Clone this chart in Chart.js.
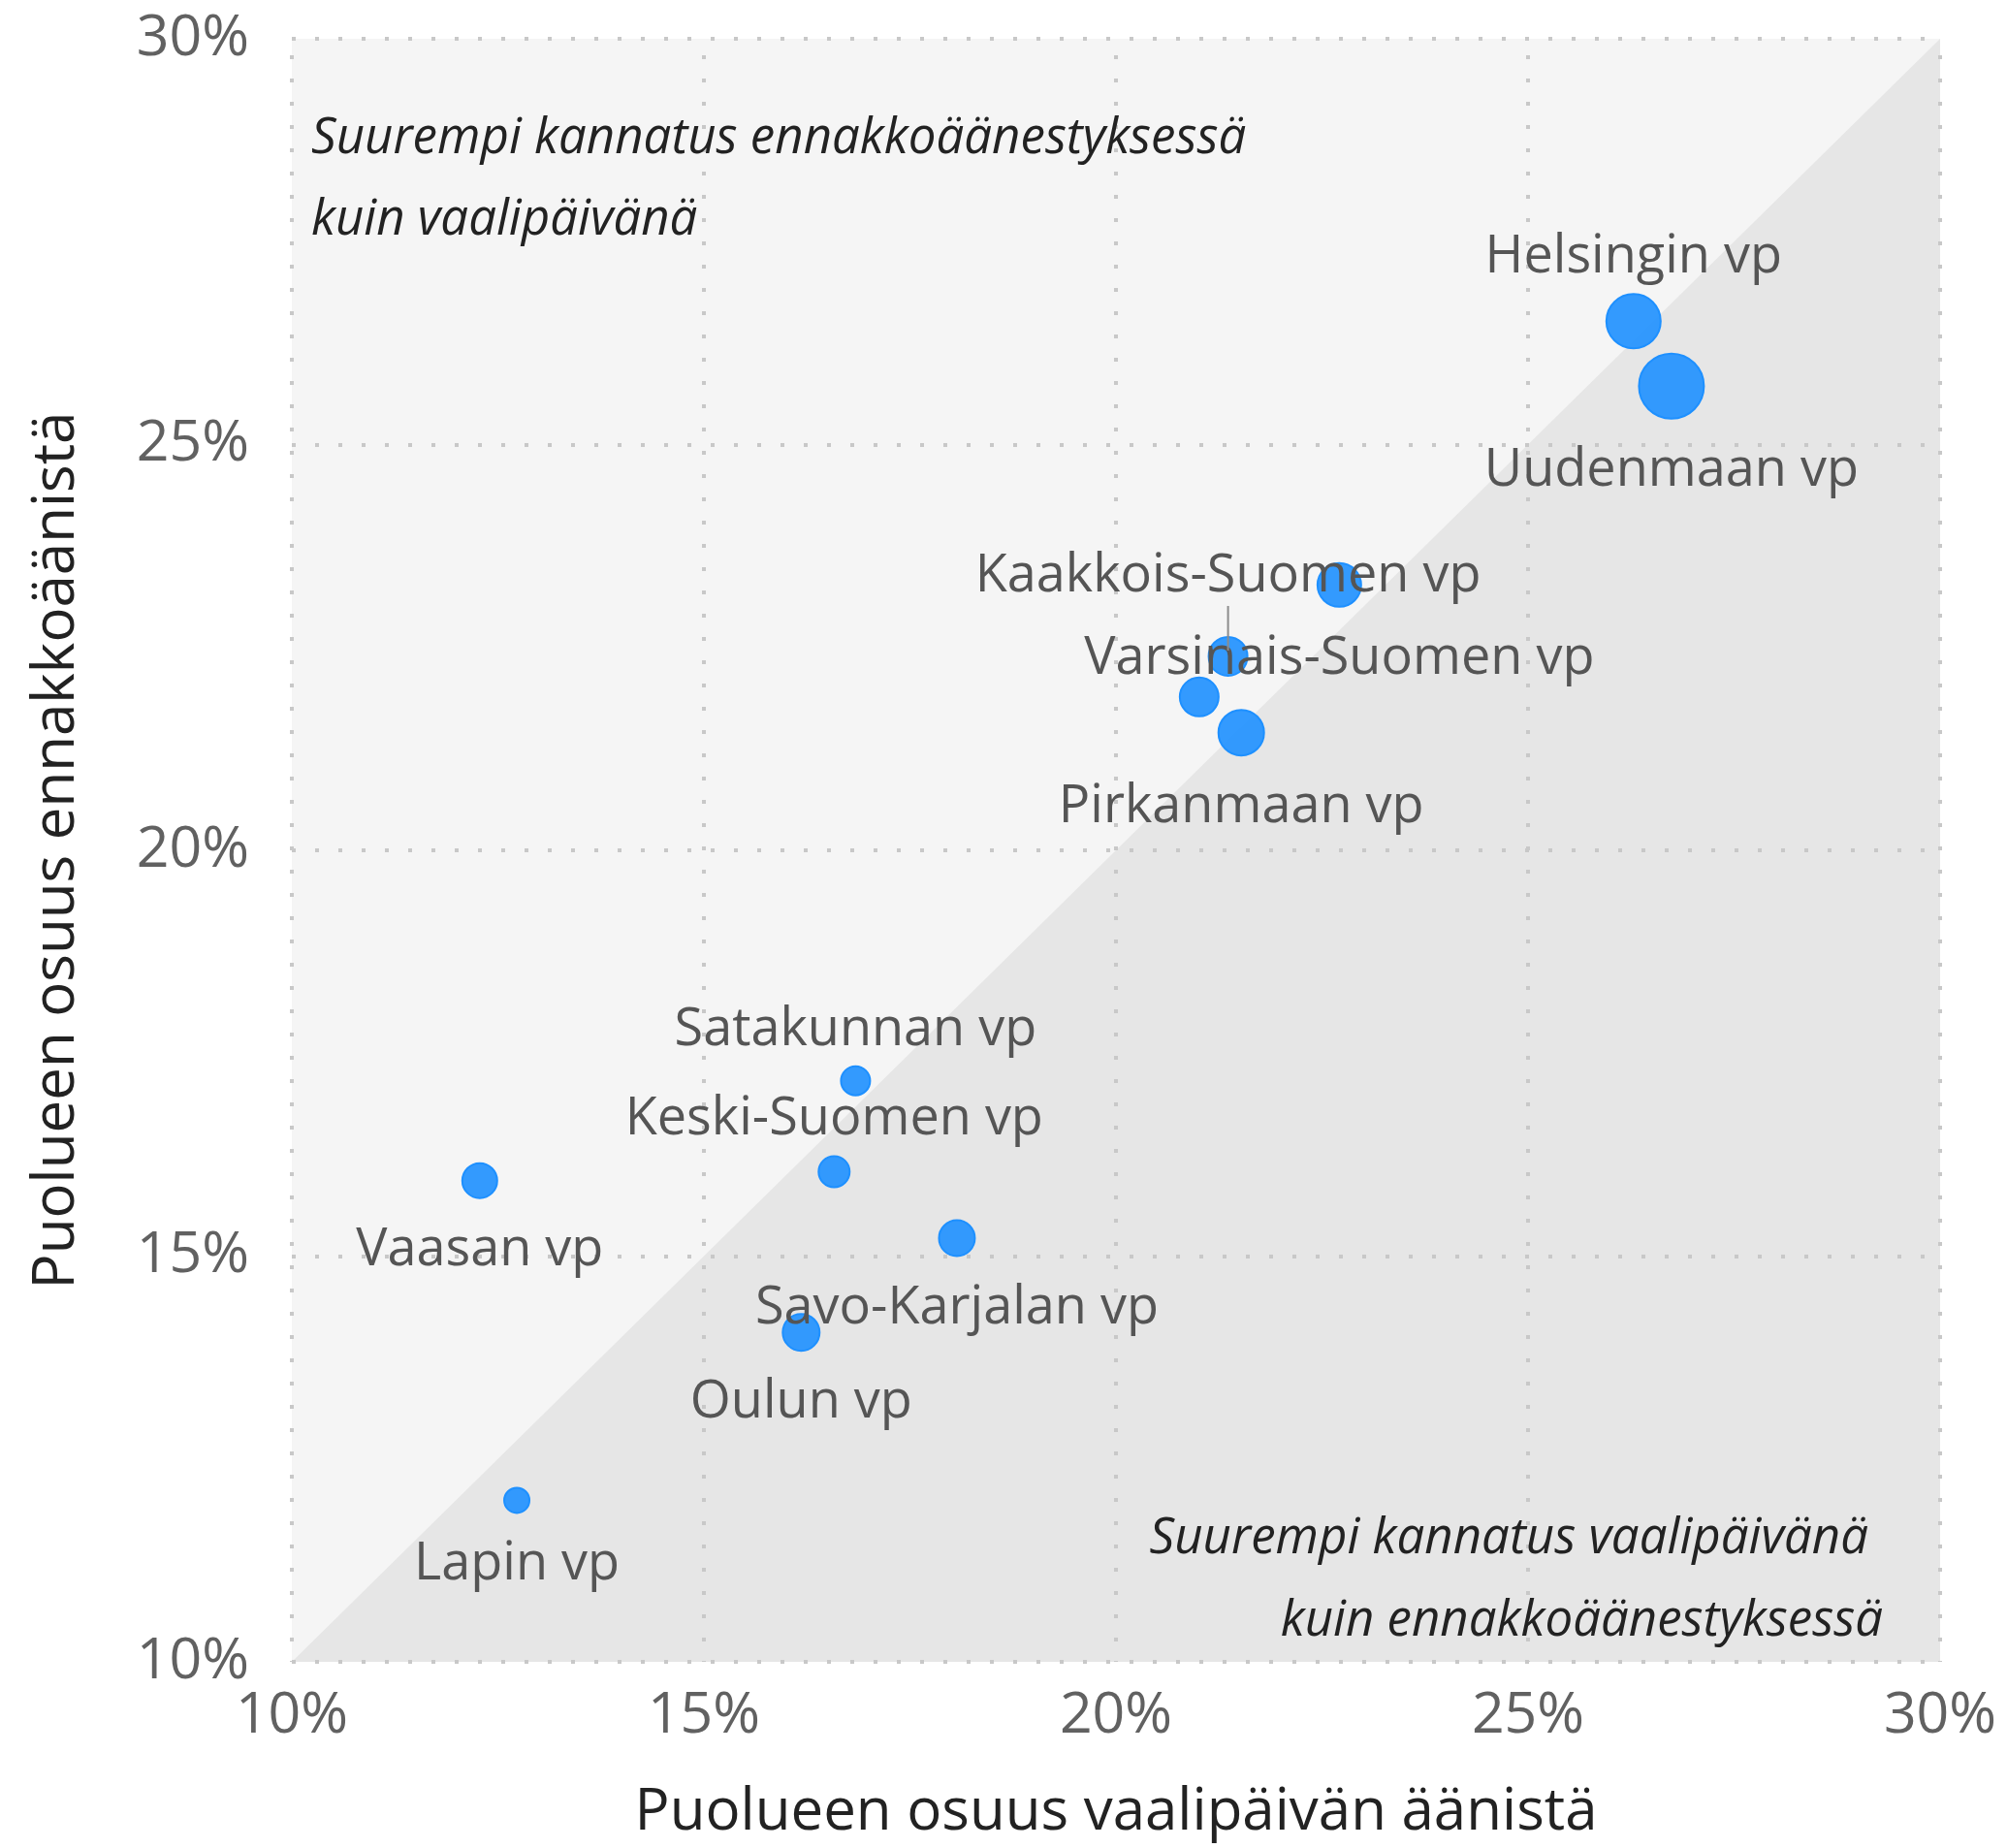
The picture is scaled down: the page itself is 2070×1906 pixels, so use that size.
<!DOCTYPE html>
<html lang="fi">
<head>
<meta charset="utf-8">
<title>Ennakkoäänet ja vaalipäivän äänet</title>
<script src="https://cdn.jsdelivr.net/npm/chart.js@4.4.1/dist/chart.umd.min.js"></script>
<style>
  html, body { margin: 0; padding: 0; background: #ffffff; }
  #wrap { width: 2070px; height: 1906px; }
</style>
</head>
<body>
<div id="wrap"><canvas id="share-chart" width="2070" height="1906"></canvas></div>
<script>
// vaalipiirit (Hämeen vp on kuvassa ilman nimeä)
const districts = [
  "Helsingin vp", "Uudenmaan vp", "Varsinais-Suomen vp", "Kaakkois-Suomen vp",
  "Hämeen vp", "Pirkanmaan vp", "Satakunnan vp", "Keski-Suomen vp",
  "Vaasan vp", "Savo-Karjalan vp", "Oulun vp", "Lapin vp",
];
// puolueen osuus vaalipäivän äänistä (%)
const electionDayShare = [26.28, 26.74, 22.71, 21.36, 21.01, 21.52, 16.84, 16.58, 12.28, 18.07, 16.18, 12.73];
// puolueen osuus ennakkoäänistä (%)
const advanceShare = [26.52, 25.72, 23.27, 22.39, 21.89, 21.45, 17.16, 16.04, 15.93, 15.22, 14.06, 11.99];
// pallon koko kuvasta luettuna
const bubbleSize = [28, 33.5, 22.5, 20, 20, 23.5, 15, 16, 18, 18.5, 19, 13];
const axisTicks = [10, 15, 20, 25, 30];

const FONT = "'Open Sans', 'Noto Sans', sans-serif";

const labelPlacement = {
  "Helsingin vp": "above",
  "Satakunnan vp": "above",
  "Keski-Suomen vp": "above",
  "Kaakkois-Suomen vp": "leader",
  "Hämeen vp": "none",
};

const shadePlugin = {
  id: "halfShade",
  beforeDraw(chart) {
    const { ctx, chartArea: a, scales: { x, y } } = chart;
    ctx.save();
    ctx.fillStyle = "#f5f5f5";
    ctx.fillRect(a.left, a.top, a.right - a.left, a.bottom - a.top);
    // yhtä suuri osuus -viivan alapuoli
    ctx.fillStyle = "#e6e6e6";
    ctx.beginPath();
    ctx.moveTo(x.getPixelForValue(x.min), y.getPixelForValue(y.min));
    ctx.lineTo(x.getPixelForValue(x.max), y.getPixelForValue(y.max));
    ctx.lineTo(x.getPixelForValue(x.max), y.getPixelForValue(y.min));
    ctx.closePath();
    ctx.fill();
    ctx.restore();
  },
};

const notePlugin = {
  id: "notes",
  beforeDatasetsDraw(chart) {
    const { ctx, chartArea: a } = chart;
    ctx.save();
    ctx.font = `italic 51px ${FONT}`;
    ctx.fillStyle = "#222222";
    ctx.textBaseline = "alphabetic";
    ctx.textAlign = "left";
    ctx.fillText("Suurempi kannatus ennakkoäänestyksessä", a.left + 20, a.top + 118);
    ctx.fillText("kuin vaalipäivänä", a.left + 20, a.top + 202);
    ctx.textAlign = "right";
    ctx.fillText("Suurempi kannatus vaalipäivänä", a.right - 74, a.bottom - 112);
    ctx.fillText("kuin ennakkoäänestyksessä", a.right - 59, a.bottom - 27);
    ctx.restore();
  },
};

const pointLabelPlugin = {
  id: "pointLabels",
  afterDatasetsDraw(chart) {
    const { ctx } = chart;
    const meta = chart.getDatasetMeta(0);
    ctx.save();
    ctx.font = `54px ${FONT}`;
    ctx.textAlign = "center";
    ctx.textBaseline = "alphabetic";
    meta.data.forEach((el, i) => {
      const place = labelPlacement[districts[i]] || "below";
      if (place === "none") return;
      const r = el.options.radius + el.options.borderWidth / 2;
      let base;
      if (place === "above") {
        base = el.y - r - 21;
      } else if (place === "leader") {
        base = el.y - 67;
        ctx.strokeStyle = "#8c8c8c";
        ctx.lineWidth = 2;
        ctx.beginPath();
        ctx.moveTo(el.x, el.y - 52);
        ctx.lineTo(el.x, el.y - 6);
        ctx.stroke();
      } else {
        base = el.y + r + 68;
      }
      ctx.fillStyle = "#555555";
      ctx.fillText(districts[i], el.x, base);
    });
    ctx.restore();
  },
};

function noEdgePadding(scale) {
  scale.paddingTop = 0;
  scale.paddingBottom = 0;
  scale.paddingLeft = 0;
  scale.paddingRight = 0;
}

function axisOptions(titleText, extra) {
  return {
    type: "linear",
    min: 10,
    max: 30,
    afterBuildTicks: (scale) => {
      scale.ticks = axisTicks.map((v) => ({ value: v }));
    },
    grid: { color: "#c8c8c8", lineWidth: 4, drawTicks: false },
    border: { display: false, dash: [4, 20], dashOffset: extra.dashOffset },
    ticks: {
      color: "#616161",
      font: { family: FONT, size: 59 },
      callback: (value) => `${value}%`,
      ...extra.ticks,
    },
    title: {
      display: true,
      text: titleText,
      color: "#222222",
      font: { family: FONT, size: 60 },
      ...extra.title,
    },
    afterFit: extra.afterFit,
  };
}

new Chart(document.getElementById("share-chart"), {
  type: "bubble",
  data: {
    datasets: [
      {
        label: "Vaalipiirit",
        data: districts.map((name, i) => ({
          x: electionDayShare[i],
          y: advanceShare[i],
          r: bubbleSize[i],
        })),
        backgroundColor: "rgba(30, 144, 255, 0.9)",
        borderColor: "#1e90ff",
        borderWidth: 2,
      },
    ],
  },
  options: {
    responsive: false,
    animation: false,
    layout: { padding: { top: 40, right: 69, bottom: 0, left: 0 } },
    plugins: {
      legend: { display: false },
      tooltip: { enabled: false },
    },
    scales: {
      x: axisOptions("Puolueen osuus vaalipäivän äänistä", {
        dashOffset: 7,
        ticks: { padding: 21, maxRotation: 0 },
        title: { padding: { top: 0, bottom: 0 } },
        afterFit: (scale) => { scale.height = 192; noEdgePadding(scale); },
      }),
      y: axisOptions("Puolueen osuus ennakkoäänistä", {
        dashOffset: 0,
        ticks: { padding: 44 },
        title: { padding: { top: 23, bottom: 0 } },
        afterFit: (scale) => { scale.width = 301; noEdgePadding(scale); },
      }),
    },
  },
  plugins: [shadePlugin, notePlugin, pointLabelPlugin],
});
</script>
</body>
</html>
